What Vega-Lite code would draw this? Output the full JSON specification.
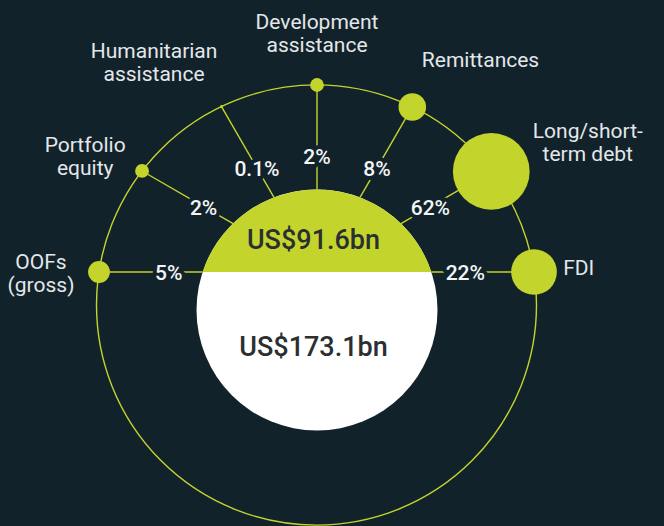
{
  "$schema": "https://vega.github.io/schema/vega-lite/v6.json",
  "width": 664,
  "height": 526,
  "padding": 0,
  "autosize": "none",
  "background": "#12222b",
  "config": {
    "view": {"stroke": null},
    "axis": {"disable": true},
    "legend": {"disable": true},
    "text": {"font": "Roboto"}
  },
  "datasets": {
    "flows": [
      {"flow": "OOFs (gross)", "label": ["OOFs", "(gross)"], "order": 0, "pct": 5},
      {"flow": "Portfolio equity", "label": ["Portfolio", "equity"], "order": 1, "pct": 2},
      {"flow": "Humanitarian assistance", "label": ["Humanitarian", "assistance"], "order": 2, "pct": 0.1},
      {"flow": "Development assistance", "label": ["Development", "assistance"], "order": 3, "pct": 2},
      {"flow": "Remittances", "label": ["Remittances"], "order": 4, "pct": 8},
      {"flow": "Long/short-term debt", "label": ["Long/short-", "term debt"], "order": 5, "pct": 62},
      {"flow": "FDI", "label": ["FDI"], "order": 6, "pct": 22}
    ],
    "totals": [
      {"part": "bottom", "label": "US$173.1bn", "value": 173.1},
      {"part": "top", "label": "US$91.6bn", "value": 91.6}
    ],
    "ring": [{"ring": "outer"}]
  },
  "layer": [
    {
      "data": {"name": "ring"},
      "mark": {"type": "point", "shape": "circle", "filled": false, "stroke": "#c3d52d", "strokeWidth": 1.4, "opacity": 1, "size": 193600},
      "encoding": {
        "x": {"datum": -0.5, "type": "quantitative", "scale": {"domain": [-317, 347], "nice": false, "zero": false}},
        "y": {"datum": -33, "type": "quantitative", "scale": {"domain": [-254, 272], "nice": false, "zero": false}}
      }
    },
    {
      "data": {"name": "totals"},
      "mark": {"type": "point", "filled": true, "opacity": 1, "strokeWidth": 0, "size": 58081},
      "encoding": {
        "x": {"datum": 0, "type": "quantitative", "scale": {"domain": [-317, 347], "nice": false, "zero": false}},
        "y": {"datum": -38, "type": "quantitative", "scale": {"domain": [-254, 272], "nice": false, "zero": false}},
        "shape": {"field": "part", "type": "nominal", "scale": {"domain": ["bottom", "top"], "range": ["circle", "M-0.949 -0.315 A1 1 0 0 1 0.949 -0.315 Z"]}},
        "color": {"field": "part", "type": "nominal", "scale": {"domain": ["bottom", "top"], "range": ["#ffffff", "#c3d52d"]}}
      }
    },
    {
      "data": {"name": "flows"},
      "transform": [
        {"calculate": "(180 - 30 * datum.order) * PI / 180", "as": "a"},
        {"calculate": "cos(datum.a)", "as": "c"},
        {"calculate": "sin(datum.a)", "as": "s"},
        {"calculate": "-0.5 * datum.c - 33 * datum.s", "as": "uc"},
        {"calculate": "datum.uc + sqrt(datum.uc * datum.uc - 1089.25 + 48400)", "as": "t"},
        {"calculate": "datum.t * datum.c", "as": "nx"},
        {"calculate": "datum.t * datum.s", "as": "ny"},
        {"calculate": "-38 * datum.s + sqrt(1444 * datum.s * datum.s - 1444 + 14520.25)", "as": "ti"},
        {"calculate": "datum.ti * datum.c", "as": "ix"},
        {"calculate": "datum.ti * datum.s", "as": "iy"},
        {"calculate": "(datum.ti + 34) * datum.c", "as": "px"},
        {"calculate": "(datum.ti + 34) * datum.s", "as": "py"},
        {"calculate": "datum.pct + '%'", "as": "pctLabel"},
        {"calculate": "sqrt(datum.pct * 95) / 2", "as": "rn"},
        {"calculate": "datum.a - (35 * PI / 180) * sin(2 * datum.a) * abs(datum.s)", "as": "a2"},
        {"calculate": "datum.label[0]", "as": "l0"},
        {"calculate": "length(datum.label) > 1 ? datum.label[1] : ''", "as": "l1"},
        {"calculate": "11 * length(datum.l0) - 4.3 * length(replace(datum.l0, regexp('[^iljtfrI()/ -]', 'g'), '')) + 5 * length(replace(datum.l0, regexp('[^mwMWHDO]', 'g'), ''))", "as": "w0"},
        {"calculate": "11 * length(datum.l1) - 4.3 * length(replace(datum.l1, regexp('[^iljtfrI()/ -]', 'g'), '')) + 5 * length(replace(datum.l1, regexp('[^mwMWHDO]', 'g'), ''))", "as": "w1"},
        {"calculate": "max(datum.w0, datum.w1)", "as": "w"},
        {"calculate": "16 + 23 * (length(datum.label) - 1)", "as": "h"},
        {"calculate": "5 + 21 * pow(datum.s, 4) + 10 * pow(max(-datum.c, 0), 8)", "as": "g"},
        {"calculate": "datum.rn + datum.g + abs(cos(datum.a2)) * datum.w / 2 + abs(sin(datum.a2)) * datum.h / 2", "as": "ld"},
        {"calculate": "datum.nx + datum.ld * cos(datum.a2)", "as": "lx"},
        {"calculate": "datum.ny + datum.ld * sin(datum.a2) + (length(datum.label) - 1) * 11.5 - 2 + 5 * max(datum.c, 0)", "as": "ly"}
      ],
      "layer": [
        {
          "mark": {"type": "rule", "color": "#c3d52d", "strokeWidth": 1.4},
          "encoding": {
            "x": {"field": "ix", "type": "quantitative", "scale": {"domain": [-317, 347], "nice": false, "zero": false}},
            "y": {"field": "iy", "type": "quantitative", "scale": {"domain": [-254, 272], "nice": false, "zero": false}},
            "x2": {"field": "nx"},
            "y2": {"field": "ny"}
          }
        },
        {
          "mark": {"type": "point", "shape": "circle", "filled": true, "opacity": 1, "color": "#c3d52d", "strokeWidth": 0},
          "encoding": {
            "x": {"field": "nx", "type": "quantitative", "scale": {"domain": [-317, 347], "nice": false, "zero": false}},
            "y": {"field": "ny", "type": "quantitative", "scale": {"domain": [-254, 272], "nice": false, "zero": false}},
            "size": {"field": "pct", "type": "quantitative", "scale": {"domain": [0, 100], "range": [0, 9500]}}
          }
        },
        {
          "mark": {"type": "text", "fontSize": 21, "fontWeight": 500, "align": "center", "baseline": "middle", "dy": 2, "fill": "#12222b", "stroke": "#12222b", "strokeWidth": 8, "strokeJoin": "round"},
          "encoding": {
            "x": {"field": "px", "type": "quantitative", "scale": {"domain": [-317, 347], "nice": false, "zero": false}},
            "y": {"field": "py", "type": "quantitative", "scale": {"domain": [-254, 272], "nice": false, "zero": false}},
            "text": {"field": "pctLabel"}
          }
        },
        {
          "mark": {"type": "text", "fontSize": 21, "fontWeight": 500, "align": "center", "baseline": "middle", "dy": 2, "color": "#f4f6f6"},
          "encoding": {
            "x": {"field": "px", "type": "quantitative", "scale": {"domain": [-317, 347], "nice": false, "zero": false}},
            "y": {"field": "py", "type": "quantitative", "scale": {"domain": [-254, 272], "nice": false, "zero": false}},
            "text": {"field": "pctLabel"}
          }
        },
        {
          "mark": {"type": "text", "fontSize": 21, "align": "center", "baseline": "middle", "lineHeight": 23, "color": "#e3e7e9"},
          "encoding": {
            "x": {"field": "lx", "type": "quantitative", "scale": {"domain": [-317, 347], "nice": false, "zero": false}},
            "y": {"field": "ly", "type": "quantitative", "scale": {"domain": [-254, 272], "nice": false, "zero": false}},
            "text": {"field": "label"}
          }
        }
      ]
    },
    {
      "data": {"name": "totals"},
      "transform": [
        {"calculate": "datum.part == 'top' ? 31 : -76", "as": "ty"}
      ],
      "mark": {"type": "text", "fontSize": 27, "fontWeight": 500, "align": "center", "baseline": "middle", "color": "#2b2f31"},
      "encoding": {
        "x": {"datum": -3.5, "type": "quantitative", "scale": {"domain": [-317, 347], "nice": false, "zero": false}},
        "y": {"field": "ty", "type": "quantitative", "scale": {"domain": [-254, 272], "nice": false, "zero": false}},
        "text": {"field": "label"}
      }
    }
  ]
}
